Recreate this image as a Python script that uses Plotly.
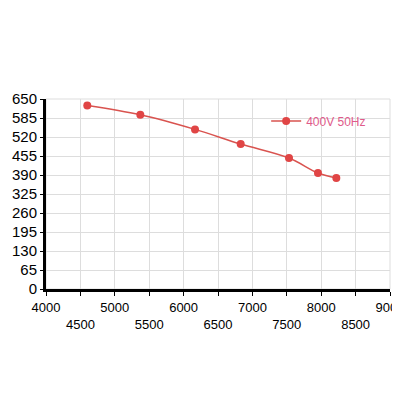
import plotly.graph_objects as go

x_vals = [4600, 5371, 6166, 6830, 7532, 7953, 8220]
y_vals = [628, 596, 546, 496, 448, 397, 380]
x_ticks = list(range(4000, 9001, 500))
x_labels = [str(v) if v % 1000 == 0 else "<br>" + str(v) for v in x_ticks]
y_ticks = list(range(0, 651, 65))

fig = go.Figure(go.Scatter(
    x=x_vals, y=y_vals, mode="lines+markers", name="400V 50Hz",
    line=dict(color="#d9534f", width=1.5, shape="spline"),
    marker=dict(color="#e04545", size=8),
))
fig.update_layout(
    width=400, height=400, paper_bgcolor="white", plot_bgcolor="white",
    margin=dict(l=38, r=18, t=91, b=119),
    font=dict(family="Liberation Sans", size=12, color="black"),
    showlegend=True,
    legend=dict(x=0.64, y=0.96, xanchor="left", yanchor="top",
                bgcolor="rgba(0,0,0,0)", font=dict(color="#e05a8a", size=12)),
)
fig.update_xaxes(range=[4000, 9000], tickvals=x_ticks, ticktext=x_labels,
                 showgrid=True, gridcolor="#dddddd", showline=True, linecolor="black",
                 linewidth=3, ticks="outside", ticklen=4, tickcolor="black",
                 minor=dict(ticks="outside", ticklen=3, tickcolor="black", nticks=5),
                 zeroline=False, tickfont=dict(size=13), automargin=False)
fig.update_yaxes(range=[0, 650], tickvals=y_ticks, showgrid=True, gridcolor="#dddddd",
                 showline=True, linecolor="black", linewidth=3, ticks="outside",
                 ticklen=3, tickcolor="black", zeroline=False,
                 tickfont=dict(size=15), automargin=False)
fig.add_shape(type="rect", xref="paper", yref="paper", x0=0, x1=1, y0=0, y1=1,
              line=dict(color="#dddddd", width=1), layer="below")
fig.write_html("out.html")
